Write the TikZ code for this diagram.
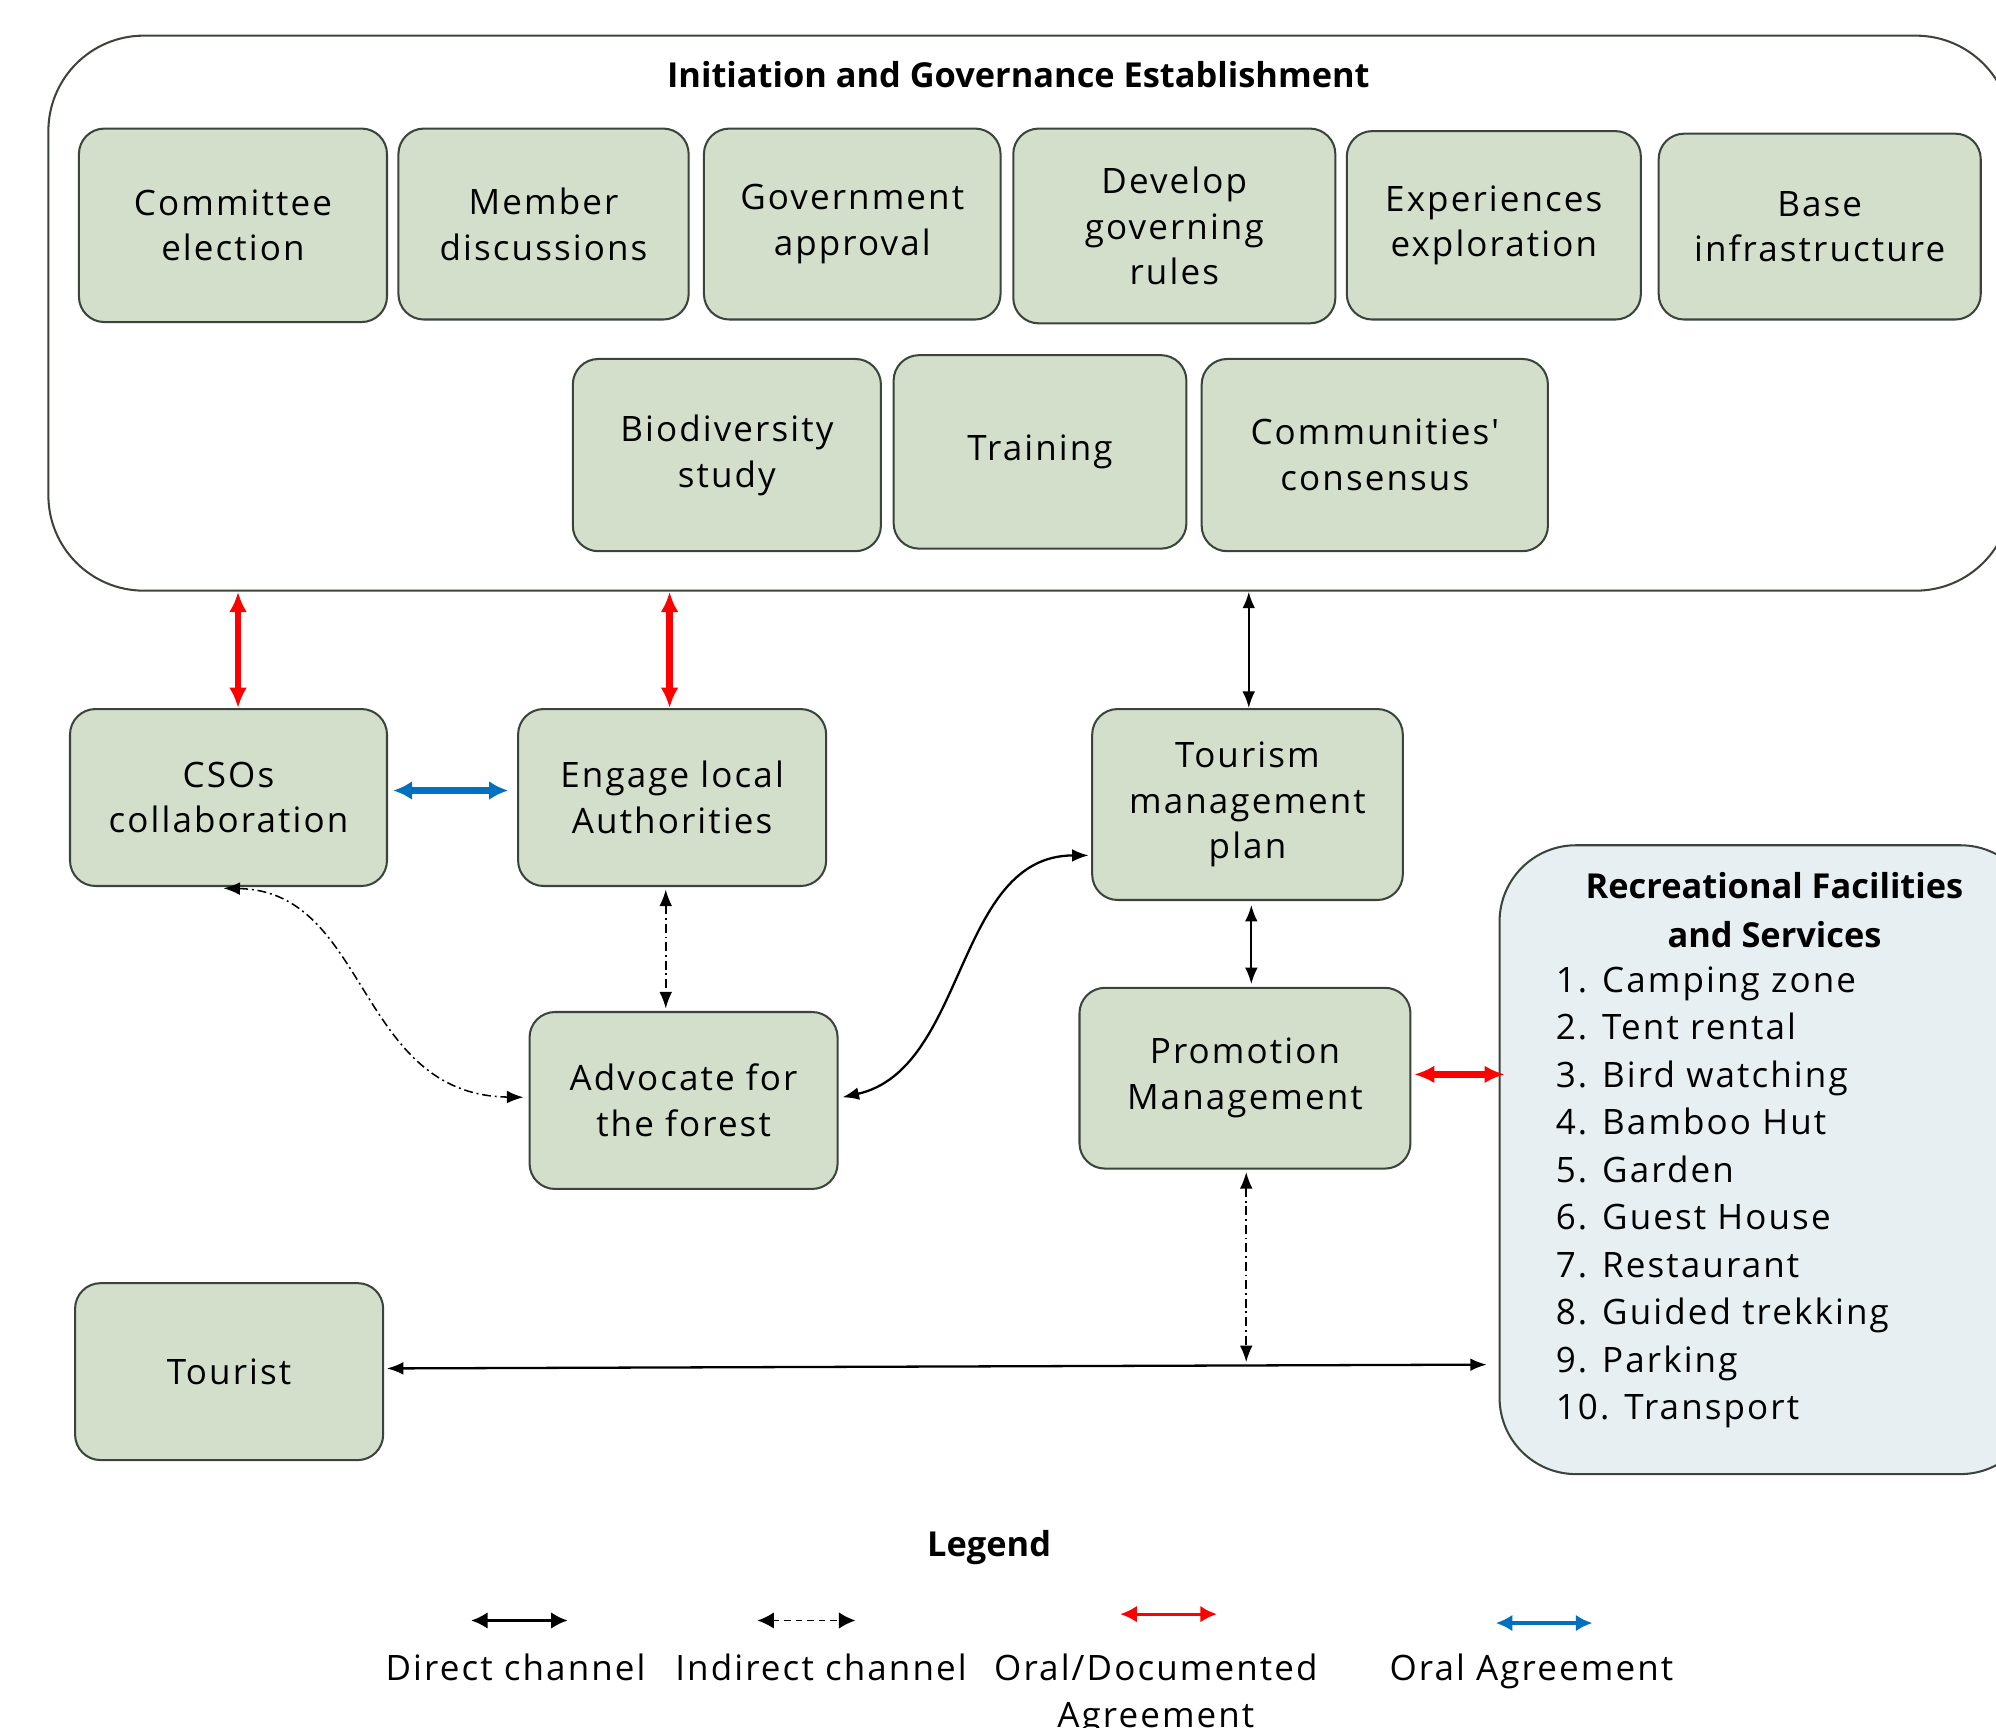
\documentclass[tikz,border=0pt]{standalone}
\usepackage{fontspec}
\setmainfont{Open Sans}
\newfontfamily\widefont{Open Sans}[LetterSpace=6]
\usetikzlibrary{arrows.meta}
\definecolor{gfill}{RGB}{211,223,203}
\definecolor{gdraw}{RGB}{58,68,58}
\definecolor{bfill}{RGB}{231,239,242}
\definecolor{myred}{RGB}{255,0,0}
\definecolor{myblue}{RGB}{0,112,192}
\begin{document}
\begin{tikzpicture}[x=1pt,y=-1pt,
  txt/.style={font=\widefont\fontsize{27.5}{36}\selectfont},
  btxt/.style={font=\fontsize{27}{38}\selectfont\bfseries},
  gbox/.style={draw=gdraw, line width=1.6pt, fill=gfill, rounded corners=20pt, align=center, inner sep=0pt, txt},
  dirarr/.style={line width=1.8pt, arrows={Latex[length=13pt,width=10pt]-Latex[length=13pt,width=10pt]}},
  indarr/.style={line width=1.2pt, dash pattern=on 7pt off 3pt on 1.5pt off 3pt, arrows={Latex[length=13pt,width=10pt]-Latex[length=13pt,width=10pt]}},
  redarr/.style={myred, line width=5pt, arrows={Latex[length=16pt,width=14pt]-Latex[length=16pt,width=14pt]}},
  bluearr/.style={myblue, line width=5pt, arrows={Latex[length=15pt,width=15pt]-Latex[length=15pt,width=15pt]}},
]
\useasboundingbox (0,0) rectangle (1568,1357);
% outer container
\node[draw=gdraw, line width=1.6pt, rounded corners=75pt, minimum width=1542pt, minimum height=436pt, inner sep=0pt] (ige) at (809,246) {};
\node[btxt] (title) at (800,59) {Initiation and Governance Establishment};
% row 1
\node[gbox, minimum width=242pt, minimum height=152pt] (ce) at (183,177) {Committee\\election};
\node[gbox, minimum width=228pt, minimum height=150pt] (md) at (427,176) {Member\\discussions};
\node[gbox, minimum width=233pt, minimum height=150pt] (ga) at (669.5,176) {Government\\approval};
\node[gbox, minimum width=253pt, minimum height=153pt] (dg) at (922.5,177.5) {Develop\\governing\\rules};
\node[gbox, minimum width=231pt, minimum height=148pt] (ee) at (1173.5,177) {Experiences\\exploration};
\node[gbox, minimum width=253pt, minimum height=146pt] (bi) at (1429.5,178) {Base\\infrastructure};
% row 2
\node[gbox, minimum width=242pt, minimum height=151pt] (bs) at (571,357.5) {Biodiversity\\study};
\node[gbox, minimum width=230pt, minimum height=152pt] (tr) at (817,355) {Training};
\node[gbox, minimum width=272pt, minimum height=151pt] (cc) at (1080,357.5) {Communities'\\consensus};
% middle
\node[gbox, minimum width=249pt, minimum height=139pt] (cso) at (179.5,626.5) {CSOs\\collaboration};
\node[gbox, minimum width=242pt, minimum height=139pt] (ela) at (528,626.5) {Engage local\\Authorities};
\node[gbox, minimum width=244pt, minimum height=150pt] (tmp) at (980,632) {Tourism\\management\\plan};
\node[gbox, minimum width=260pt, minimum height=142pt] (pm) at (978,847) {Promotion\\Management};
\node[gbox, minimum width=242pt, minimum height=139pt] (af) at (537,864.5) {Advocate for\\the forest};
\node[gbox, minimum width=242pt, minimum height=139pt] (tou) at (180,1077.5) {Tourist};
% recreational
\node[draw=gdraw, line width=1.6pt, fill=bfill, rounded corners=60pt, minimum width=422pt, minimum height=494pt, inner sep=0pt] (rec) at (1389,911) {};
\node[btxt, align=center] (rect) at (1394,715) {Recreational Facilities\\and Services};
\node[txt, font=\widefont\fontsize{27.5}{37.33}\selectfont, align=left, anchor=north west, inner sep=0pt] (recl) at (1222,759) {1. Camping zone\\2. Tent rental\\3. Bird watching\\4. Bamboo Hut\\5. Garden\\6. Guest House\\7. Restaurant\\8. Guided trekking\\9. Parking\\10. Transport};
% connectors
\draw[redarr] ([xshift=7.5pt]cso.north) -- ([xshift=7.5pt]cso.north |- ige.south);
\draw[redarr] ([xshift=-2pt]ela.north) -- ([xshift=-2pt]ela.north |- ige.south);
\draw[dirarr] ([xshift=1pt]tmp.north) -- ([xshift=1pt]tmp.north |- ige.south);
\draw[bluearr] ([xshift=4pt,yshift=5.5pt]cso.east) -- ([xshift=-7pt,yshift=5.5pt]ela.west);
\draw[indarr] ([xshift=-5pt,yshift=-2pt]ela.south) -- ([xshift=-5pt,yshift=2pt]ela.south |- af.north);
\draw[dirarr] ([xshift=3pt,yshift=-3pt]tmp.south) -- ([xshift=3pt,yshift=2pt]tmp.south |- pm.north);
\draw[redarr] ([xshift=2pt,yshift=3pt]pm.east) -- ([xshift=5pt,yshift=3pt]pm.east -| rec.west);
\coordinate (junc) at (979,1070);
\coordinate (tend) at (1168,1072);
\draw[indarr] ([xshift=1pt,yshift=-2pt]pm.south) -- (junc);
\draw[dirarr] ([xshift=2pt,yshift=2.5pt]tou.east) -- (tend);
\draw[dirarr] ([xshift=3pt,yshift=2.5pt]af.east) .. controls (760,840) and (750,672) .. ([xshift=-2pt,yshift=-40pt]tmp.west);
\draw[indarr] ([xshift=-4pt,yshift=-1pt]cso.south) .. controls (290,700) and (280,860) .. ([xshift=-4pt,yshift=2.5pt]af.west);
% legend
\node[btxt] (leg) at (777,1216) {Legend};
\coordinate (l1a) at (370,1273); \coordinate (l1b) at (446,1273);
\coordinate (l2a) at (595,1273); \coordinate (l2b) at (672,1273);
\coordinate (l3a) at (880,1268); \coordinate (l3b) at (956,1268);
\coordinate (l4a) at (1175,1275); \coordinate (l4b) at (1251,1275);
\draw[line width=2.2pt, arrows={Latex[length=13pt,width=13pt]-Latex[length=13pt,width=13pt]}] (l1a) -- (l1b);
\draw[line width=1.5pt, dash pattern=on 5pt off 4pt, arrows={Latex[length=13pt,width=13pt]-Latex[length=13pt,width=13pt]}] (l2a) -- (l2b);
\draw[myred, line width=2.2pt, arrows={Latex[length=13pt,width=13pt]-Latex[length=13pt,width=13pt]}] (l3a) -- (l3b);
\draw[myblue, line width=3pt, arrows={Latex[length=13pt,width=13pt]-Latex[length=13pt,width=13pt]}] (l4a) -- (l4b);
\node[txt, anchor=base] (lt1) at (405,1320) {Direct channel};
\node[txt, anchor=base] (lt2) at (645,1320) {Indirect channel};
\node[txt, anchor=base, align=center] (lt3) at (908,1320) {Oral/Documented};
\node[txt, anchor=base, align=center] (lt3b) at (908,1357) {Agreement};
\node[txt, anchor=base] (lt4) at (1203,1320) {Oral Agreement};
\end{tikzpicture}
\end{document}
